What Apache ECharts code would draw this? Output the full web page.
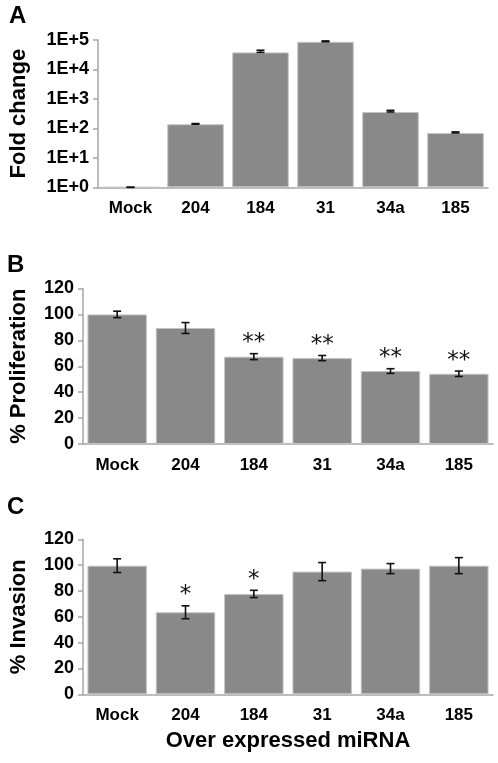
<!DOCTYPE html>
<html>
<head>
<meta charset="utf-8">
<script src="https://cdn.jsdelivr.net/npm/echarts@6/dist/echarts.min.js"></script>
<style>
html,body{margin:0;padding:0;background:#fff;}
#chart{width:498px;height:763px;}
</style>
</head>
<body>
<div id="chart"></div>
<script>
var categories = ['Mock', '204', '184', '31', '34a', '185'];
var foldChange = [1, 138, 38000, 87000, 360, 70];
var foldErr = [0, 8, 7000, 6000, 50, 6];
var prolif = [100, 89.5, 67.4, 66.3, 56.3, 54.2];
var prolifErr = [2.5, 4.2, 2.3, 2.0, 1.8, 2.1];
var prolifSig = ['', '', '**', '**', '**', '**'];
var invasion = [99.6, 63.5, 77.7, 95, 97.3, 99.6];
var invasionErr = [5.3, 5.0, 2.8, 7.0, 3.9, 6.2];
var invasionSig = ['', '*', '*', '', '', ''];
var foldTicks = [1, 10, 100, 1000, 10000, 100000];
var pctTicks = [0, 20, 40, 60, 80, 100, 120];

var FONT = 'Liberation Sans, Arial, sans-serif';
var AXIS_COLOR = '#a6a6a6';
var BAR_COLOR = '#898989';

function errData(vals, errs, plusOnly, sig) {
  return vals.map(function (v, i) {
    return [i, plusOnly ? v : v - errs[i], v + errs[i], sig ? sig[i] : ''];
  });
}

function errRender(params, api) {
  var i = api.value(0);
  var lo = api.coord([i, api.value(1)]);
  var hi = api.coord([i, api.value(2)]);
  var sig = api.value(3);
  var half = 4;
  var style = {stroke: '#111', lineWidth: 1.6};
  var children = [
    {type: 'line', shape: {x1: hi[0], y1: hi[1], x2: lo[0], y2: lo[1]}, style: style},
    {type: 'line', shape: {x1: hi[0] - half, y1: hi[1], x2: hi[0] + half, y2: hi[1]}, style: style},
    {type: 'line', shape: {x1: lo[0] - half, y1: lo[1], x2: lo[0] + half, y2: lo[1]}, style: style}
  ];
  if (sig) {
    children.push({
      type: 'text',
      style: {
        text: sig, x: hi[0], y: hi[1] + 1,
        align: 'center', verticalAlign: 'bottom',
        font: 'normal 23px "DejaVu Sans"', fill: '#111'
      }
    });
  }
  return {type: 'group', children: children};
}

var grids = [
  {left: 97, top: 40, width: 391, height: 147.3},
  {left: 81, top: 288.5, width: 412, height: 155.5},
  {left: 81, top: 539.3, width: 412, height: 155}
];

function xAxisFor(gi, name) {
  return {
    type: 'category', gridIndex: gi, data: categories,
    axisLine: {lineStyle: {color: AXIS_COLOR, width: 1.5}},
    axisTick: {show: false},
    axisLabel: {color: '#000', fontFamily: FONT, fontWeight: 'bold', fontSize: 17, margin: 13, interval: 0},
    name: name || '',
    nameLocation: 'middle', nameGap: 36,
    nameTextStyle: {color: '#000', fontFamily: FONT, fontWeight: 'bold', fontSize: 22}
  };
}

function yAxisCommon(gi, name, gap) {
  return {
    gridIndex: gi,
    name: name, nameLocation: 'middle', nameGap: gap, nameRotate: 90,
    nameTextStyle: {color: '#000', fontFamily: FONT, fontWeight: 'bold', fontSize: 22},
    axisLine: {show: true, lineStyle: {color: AXIS_COLOR, width: 1.5}},
    axisTick: {show: true, inside: false, length: 5, lineStyle: {color: AXIS_COLOR, width: 1.5}},
    splitLine: {show: false},
    axisLabel: {color: '#000', fontFamily: FONT, fontWeight: 'bold', fontSize: 18, margin: 9}
  };
}

var yA = yAxisCommon(0, 'Fold change', 68);
yA.type = 'log'; yA.logBase = 10; yA.min = foldTicks[0]; yA.max = foldTicks[foldTicks.length - 1];
yA.axisLabel.formatter = function (v) { return '1E+' + Math.round(Math.log10(v)); };

var yB = yAxisCommon(1, '% Proliferation', 53);
yB.type = 'value'; yB.min = pctTicks[0]; yB.max = pctTicks[pctTicks.length - 1]; yB.interval = 20;

var yC = yAxisCommon(2, '% Invasion', 53);
yC.type = 'value'; yC.min = pctTicks[0]; yC.max = pctTicks[pctTicks.length - 1]; yC.interval = 20;

function barSeries(i, data) {
  return {
    type: 'bar', xAxisIndex: i, yAxisIndex: i, data: data,
    barCategoryGap: '13%', silent: true,
    itemStyle: {color: BAR_COLOR, borderColor: '#c4c4c4', borderWidth: 1}
  };
}
function errSeries(i, data) {
  return {
    type: 'custom', xAxisIndex: i, yAxisIndex: i, data: data, silent: true,
    renderItem: errRender, z: 5
  };
}

var chart = echarts.init(document.getElementById('chart'), null, {renderer: 'canvas'});
chart.setOption({
  animation: false,
  backgroundColor: '#fff',
  title: [
    {text: 'A', left: 9, top: 4, padding: 0, textStyle: {fontFamily: FONT, fontWeight: 'bold', fontSize: 24, color: '#000'}},
    {text: 'B', left: 7, top: 253, padding: 0, textStyle: {fontFamily: FONT, fontWeight: 'bold', fontSize: 24, color: '#000'}},
    {text: 'C', left: 7, top: 495, padding: 0, textStyle: {fontFamily: FONT, fontWeight: 'bold', fontSize: 24, color: '#000'}}
  ],
  grid: grids,
  xAxis: [xAxisFor(0), xAxisFor(1), xAxisFor(2, 'Over expressed miRNA')],
  yAxis: [yA, yB, yC],
  series: [
    barSeries(0, foldChange),
    errSeries(0, errData(foldChange, foldErr, true)),
    barSeries(1, prolif),
    errSeries(1, errData(prolif, prolifErr, false, prolifSig)),
    barSeries(2, invasion),
    errSeries(2, errData(invasion, invasionErr, false, invasionSig))
  ]
});
</script>
</body>
</html>
